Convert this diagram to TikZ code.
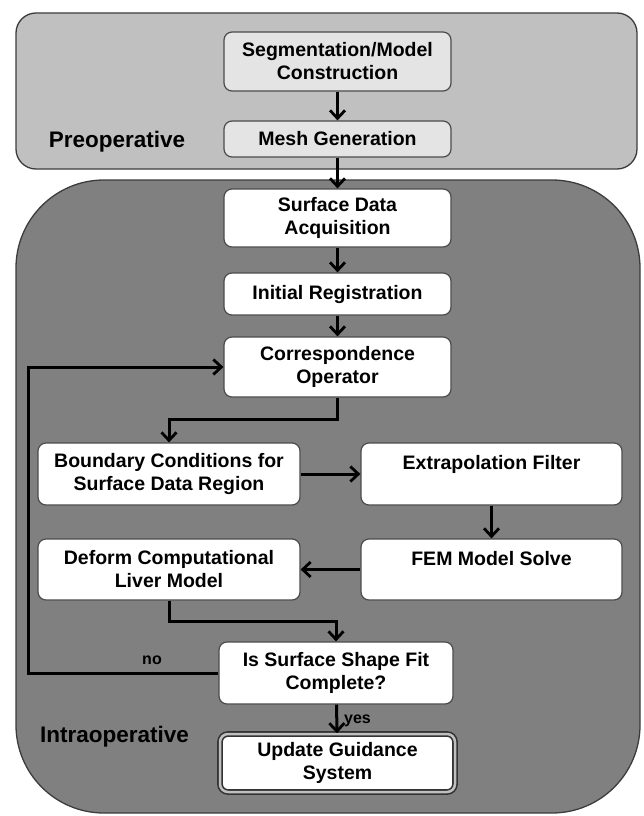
\documentclass[tikz,border=0pt]{standalone}
\usepackage{fontspec}
\setmainfont{Liberation Sans}
\usetikzlibrary{arrows.meta,calc}
\definecolor{preopfill}{RGB}{192,192,192}
\definecolor{intrafill}{RGB}{128,128,128}
\definecolor{regionedge}{RGB}{60,60,60}
\definecolor{boxedge}{RGB}{75,75,75}
\definecolor{lightbox}{RGB}{228,228,228}
\tikzset{
  region/.style={draw=regionedge,line width=1.3pt},
  stepbox/.style={draw=boxedge,line width=1.2pt,fill=white,rounded corners=8pt,
    align=center,inner sep=0pt,font=\fontsize{19.5}{23}\selectfont\bfseries},
  prebox/.style={stepbox,fill=lightbox},
  flow/.style={line width=3pt,-{Straight Barb[length=8pt,width=15pt,line width=2.8pt]}},
  phase/.style={font=\fontsize{22.5}{26}\selectfont\bfseries,inner sep=0pt},
  tag/.style={font=\fontsize{16}{18}\selectfont\bfseries,inner sep=0pt}
}
\begin{document}
\begin{tikzpicture}[x=1pt,y=-1pt]
\useasboundingbox (0,0) rectangle (644,816);
% regions
\path[region,fill=preopfill,rounded corners=20pt] (16,13) rectangle (637,169);
\path[region,fill=intrafill,rounded corners=88pt] (16,180) rectangle (640,813);
\node[phase] (preop) at (117,142) {Preoperative};
\node[phase] (intraop) at (114.5,737) {Intraoperative};
% nodes
\node[prebox,minimum width=227pt,minimum height=59pt] (seg) at (337.5,61.5) {Segmentation/Model\\Construction};
\node[prebox,minimum width=227pt,minimum height=36pt] (mesh) at (337.5,139) {Mesh Generation};
\node[stepbox,minimum width=227pt,minimum height=58pt] (surf) at (337.5,218) {Surface Data\\Acquisition};
\node[stepbox,minimum width=227pt,minimum height=42pt] (init) at (337.5,294) {Initial Registration};
\node[stepbox,minimum width=227pt,minimum height=60pt] (corr) at (337.5,367) {Correspondence\\Operator};
\node[stepbox,minimum width=262pt,minimum height=62pt] (bc) at (169,474) {Boundary Conditions for\\Surface Data Region};
\node[stepbox,minimum width=261pt,minimum height=62pt] (ext) at (491.5,474) {Extrapolation Filter\\\mbox{}};
\node[stepbox,minimum width=261pt,minimum height=61pt] (fem) at (491.5,569.5) {FEM Model Solve\\\mbox{}};
\node[stepbox,minimum width=262pt,minimum height=61pt] (def) at (169,569.5) {Deform Computational\\Liver Model};
\node[stepbox,minimum width=234pt,minimum height=62pt] (fit) at (336,673) {Is Surface Shape Fit\\Complete?};
\node[stepbox,minimum width=235pt,minimum height=58pt,draw=black!80,line width=1.6pt,
  double=gray!50,double distance=2.5pt] (upd) at (337.5,763) {Update Guidance\\System};
% connectors
\draw[flow] (seg) -- (mesh);
\draw[flow] (mesh) -- (surf);
\draw[flow] (surf) -- (init);
\draw[flow] (init) -- (corr);
\draw[flow] (corr.south) -- ++(0,22) -| (bc.north);
\draw[flow] (bc) -- (ext);
\draw[flow] (ext) -- (fem);
\draw[flow] (fem) -- (def);
\draw[flow] (def.south) -- ++(0,21) -| (fit.north);
\draw[flow] (fit) -- (upd);
\coordinate (loopcorner) at (28,673);
\draw[flow] (fit.west) -- (loopcorner) |- (corr.west);
\node[tag] (no) at (152,660) {no};
\node[tag,anchor=west] (yes) at (344,721) {yes};
\end{tikzpicture}
\end{document}
